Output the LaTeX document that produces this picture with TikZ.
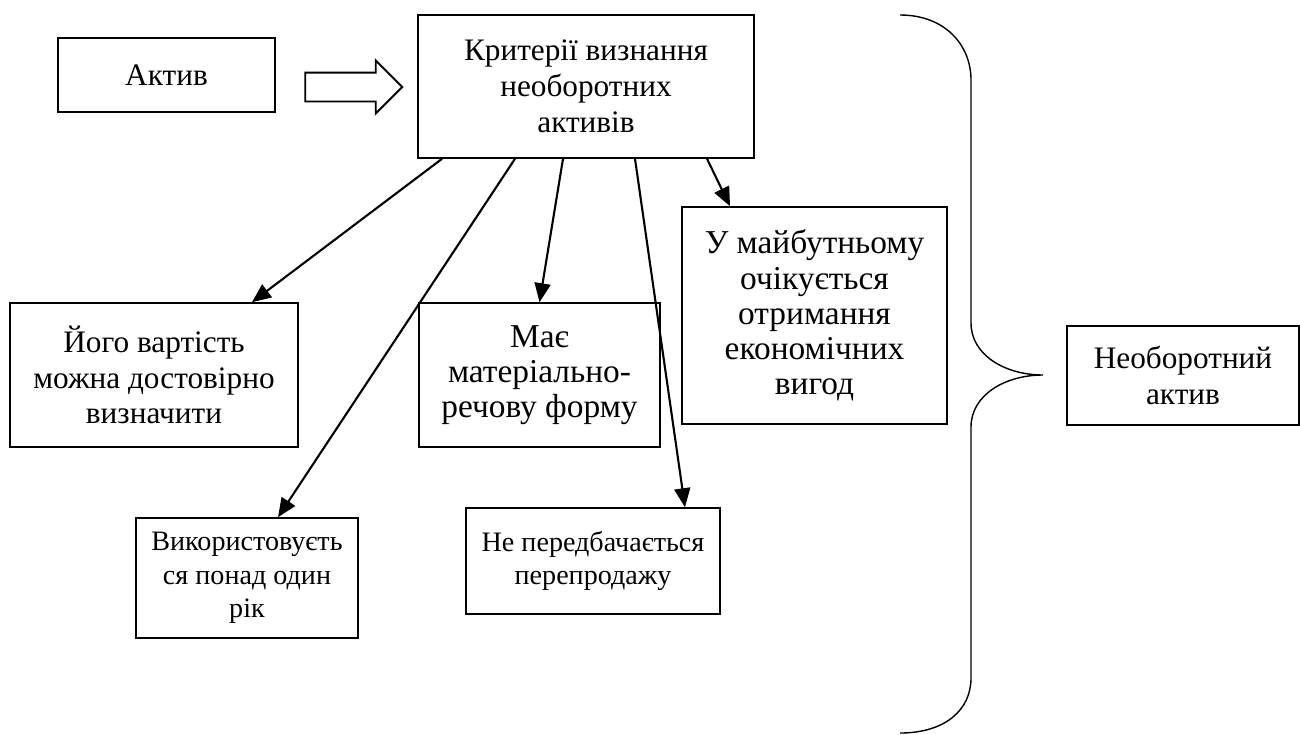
\documentclass[tikz,border=0pt]{standalone}
\usepackage{fontspec}
\setmainfont{Liberation Serif}
\usepackage{tikz}
\usetikzlibrary{shapes.arrows, arrows.meta, positioning}

\begin{document}
\begin{tikzpicture}[x=0.02cm, y=-0.02cm,
    box/.style={draw, line width=0.9pt, align=center, inner sep=0pt,
        font=\fontsize{17.8}{20.4}\selectfont},
    bigtext/.style={font=\fontsize{19}{20}\selectfont},
    smalltext/.style={font=\fontsize{16}{19}\selectfont},
    link/.style={-{Triangle[length=0.38cm, width=0.32cm]}, line width=1.2pt}]
    \useasboundingbox (0,0) rectangle (1300,734);

    % Asset and criteria
    \node[box, minimum width=4.34cm, minimum height=1.48cm] (aktyv) at (166.5,75) {Актив};
    \node[box, minimum width=6.72cm, minimum height=2.86cm] (kryt) at (586,86.5) {Критерії визнання\\необоротних\\активів};
    \node[draw, single arrow, line width=1.1pt, minimum height=1.94cm, inner xsep=0pt,
        inner ysep=0.27cm, single arrow head extend=0.24cm] (perehid) at (346.5,87) {};

    % Criteria boxes
    \node[box, minimum width=5.76cm, minimum height=2.88cm] (vart) at (154,375) {Його вартість\\можна достовірно\\визначити};
    \node[box, bigtext, minimum width=4.82cm, minimum height=2.88cm] (mae) at (539.5,375) {Має\\матеріально-\\речову форму};
    \node[box, bigtext, minimum width=5.3cm, minimum height=4.34cm] (maib) at (814.5,315.5) {У майбутньому\\очікується\\отримання\\економічних\\вигод};
    \node[box, smalltext, minimum width=4.44cm, minimum height=2.4cm] (vykor) at (247,578) {Використовуєть\\ся понад один\\рік};
    \node[box, smalltext, minimum width=5.08cm, minimum height=2.12cm] (neperedb) at (593,561) {Не передбачається\\перепродажу};

    % Result
    \node[box, minimum width=4.64cm, minimum height=1.98cm] (neobor) at (1183,375.5) {Необоротний\\актив};

    % Arrows from the criteria
    \draw[link] ([xshift=-2.88cm]kryt.south) -- ([xshift=1.96cm]vart.north);
    \draw[link] ([xshift=-1.42cm]kryt.south) -- ([xshift=0.62cm]vykor.north);
    \draw[link] ([xshift=-0.46cm]kryt.south) -- (mae.north);
    \draw[link] ([xshift=0.98cm]kryt.south) -- ([xshift=1.84cm]neperedb.north);
    \draw[link] ([xshift=2.42cm]kryt.south) -- ([xshift=-1.69cm]maib.north);

    % Brace
    \draw[line width=0.8pt] (900,15) .. controls (945,15) and (971,45) .. (971,80)
        -- (971,323) .. controls (971,355) and (1005,375) .. (1043,375)
        .. controls (1005,375) and (971,395) .. (971,427)
        -- (971,678) .. controls (971,710) and (945,733) .. (900,733);
\end{tikzpicture}
\end{document}
